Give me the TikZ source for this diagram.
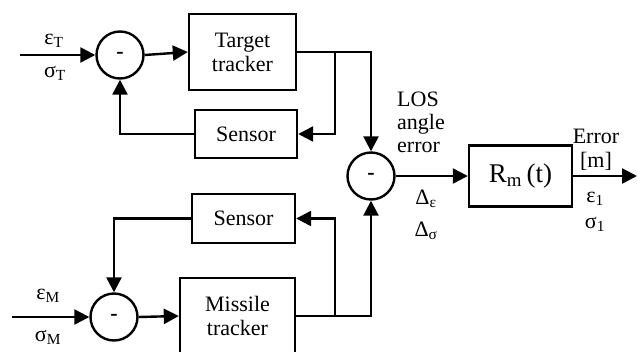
\documentclass[tikz,border=0pt]{standalone}
\usepackage{fontspec}
\setmainfont{Liberation Serif}
\usetikzlibrary{arrows.meta}
\begin{document}
\begin{tikzpicture}[x=1pt,y=-1pt,
  font=\fontsize{22}{24}\selectfont,
  wire/.style={line width=2.4pt},
  arr/.style={wire,-{Triangle[length=15pt,width=15pt]}},
  blk/.style={draw,line width=2.4pt,rectangle,inner sep=0pt,align=center},
  sumnode/.style={draw,line width=2.4pt,circle,minimum size=47pt,inner sep=0pt},
  lbl/.style={inner sep=0pt,align=left}]
\useasboundingbox (0,0) rectangle (637,351);
\clip (0,0) rectangle (637,351);

% summing junctions
\node[sumnode] (c1) at (120,55) {\raisebox{-3pt}{\textbf{-}}};
\node[sumnode] (c3) at (371,176) {\raisebox{-3pt}{\textbf{-}}};
\node[sumnode] (c2) at (114,317) {\raisebox{-3pt}{\textbf{-}}};

% blocks
\node[blk,minimum width=107pt,minimum height=76pt] (tt) at (242.5,52) {Target\\tracker};
\node[blk,minimum width=102pt,minimum height=48pt] (s1) at (246,134) {Sensor};
\node[blk,minimum width=103pt,minimum height=49pt] (s2) at (243.5,218.5) {Sensor};
\node[blk,minimum width=115pt,minimum height=76pt] (mt) at (237.5,316) {Missile\\tracker};
\node[blk,minimum width=103pt,minimum height=61pt,font=\fontsize{27}{29}\selectfont] (rm) at (520.5,176) {R\textsubscript{m}\,(t)};

% free ends
\coordinate (inT) at (20,55);
\coordinate (inM) at (12,317);
\coordinate (out) at (637,176);
\coordinate (b1) at (335,52);
\coordinate (b2) at (335,316);

% target loop
\draw[arr] (inT) -- (c1.west);
\draw[arr] (c1.east) -- (tt.west);
\draw[arr] (tt.east) -| (c3.north);
\draw[arr] (b1) |- (s1.east);
\draw[arr] (s1.west) -| (c1.south);

% missile loop
\draw[arr] (inM) -- (c2.west);
\draw[arr] (c2.east) -- (mt.west);
\draw[arr] (mt.east) -| (c3.south);
\draw[arr] (b2) |- (s2.east);
\draw[arr] (s2.west) -| (c2.north);

% error path
\draw[arr] (c3.east) -- (rm.west);
\draw[arr] (rm.east) -- (out);

% labels
\node[lbl] (eT) at (54,41) {ε\textsubscript{T}};
\node[lbl] (sT) at (55,73) {σ\textsubscript{T}};
\node[lbl] (eM) at (48,296) {ε\textsubscript{M}};
\node[lbl] (sM) at (48,337) {σ\textsubscript{M}};
\node[lbl,anchor=north west] (los) at (397,92) {LOS\\[-1pt]angle\\[-1pt]error};
\node[lbl] (de) at (426,199) {Δ\textsubscript{ε}};
\node[lbl] (ds) at (426,231) {Δ\textsubscript{σ}};
\node[lbl] (err) at (596,136) {Error};
\node[lbl] (unit) at (596,161) {[m]};
\node[lbl] (e1) at (595,199) {ε\textsubscript{1}};
\node[lbl] (s1l) at (595,224) {σ\textsubscript{1}};
\end{tikzpicture}
\end{document}
